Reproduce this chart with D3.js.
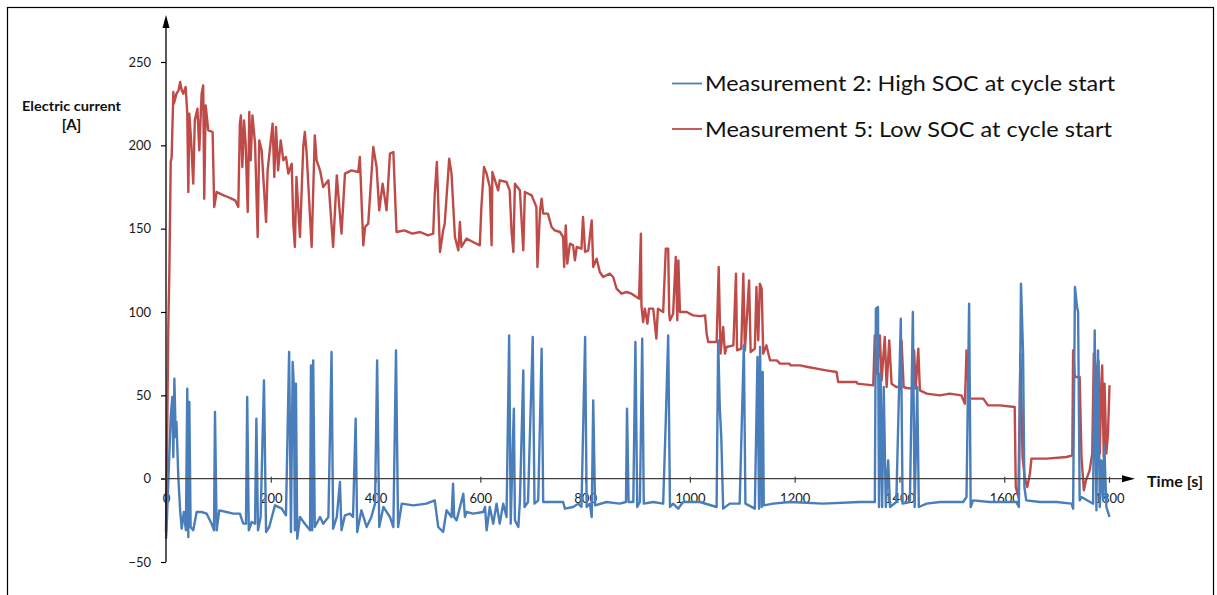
<!DOCTYPE html>
<html>
<head>
<meta charset="utf-8">
<script src="https://cdnjs.cloudflare.com/ajax/libs/d3/7.8.5/d3.min.js"></script>
<style>
body{margin:0;background:#fff;}
svg{display:block;}
</style>
</head>
<body>
<script>
// [time s, current A] samples
var m2Points = [[0,-36],[1,-31],[4.5,-1],[9,37],[12,49],[14,13],[16,60],[18.5,25],[20,34],[23.5,1],[27,-19],[30,-30],[34,-20],[38,-31],
  [40.6,54],[42.6,-35],[44.5,46],[47,-29],[52,-31],[58.5,-20],[68,-20],[77.7,-21],[87,-27],[91.6,-31],[93.5,40],[96.7,-31],
  [101.7,-19],[115.5,-20],[128.5,-21],[141,-21],[147.5,-27],[152.7,-27],[155,49],[158,-31],[163.5,-26],[170,-27],[172.5,36],
  [175.6,-31],[180.7,-23],[187,59],[191,-32],[197,-29],[208,-16],[221,-18],[229,-22],[235,76],[238.5,-32],[241.8,70],[244,56],
  [246,-31],[248,57],[250.5,-36],[255.7,-23],[265,-27],[275,-31],[276.7,68],[279,-31],[281,71],[284,-29],[294,-23],[300,-27],
  [310,-23],[316,76],[319,-30],[326,-23],[332,-2],[335,-31],[341.6,-22],[351,-21],[357,-23],[362,36],[365,-32],[373,-19],
  [383,-29],[392,-23],[399,-15],[403,71],[407,-29],[415,-17],[427.5,-23],[434,-29],[439,77],[443,-29],[450,-15],[472,-16],
  [497,-15],[513,-13],[519.6,-29],[529,-32],[535.5,-19],[545,-23],[548,-3],[550,-23],[554.6,-25],[558,-21],[567.5,-9],
  [570.6,-23],[573.7,-20],[586,-21],[605.5,-20],[609,-17],[612,-31],[618,-17],[624.6,-27],[631,-15],[637,-27],[643.7,-15],
  [650,-23],[655,86],[658,-27],[661.6,16],[664,42],[666,-25],[672.6,-29],[675.6,-13],[682,65],[684.4,-17],[691,-14],[700,85],
  [703.4,-15],[710.5,-13],[717,78],[720,-14],[739,-14],[758,-14],[761.5,-18],[777,-17],[787,-15],[793,-17],[800,85],[803,-17],
  [809,-15],[812.6,-23],[815.5,47],[819,-16],[841,-14],[866,-15],[878,-14],[880,42],[883,-14],[892,-14],[896,82],[899.5,-17],
  [904.6,-14],[909,84],[912,-15],[930,-14],[949,-15],[954,35],[958.6,86],[962,-17],[968,-15],[977.6,-18],[987,-14],[1019,-14],
  [1051,-17],[1054,83],[1057,43],[1060,24],[1063.5,-18],[1076,-15],[1095,-15],[1103,80],[1106,-15],[1124,-18],[1129,73],
  [1132,-18],[1134,79],[1137,-17],[1139,64],[1141,-16],[1159,-15],[1191,-14],[1254,-15],[1324,-14],[1353,-14],[1355,102],
  [1359,103],[1361,-17],[1364,63],[1367,-17],[1370,55],[1374,-17],[1378.5,11],[1382,-17],[1394,-14],[1402.6,96],[1406,-15],
  [1420,-14],[1425.6,100],[1429,-17],[1434,55],[1437,-17],[1452,-15],[1477,-14],[1521.6,-14],[1528,-11],[1533,105],[1536,-17],
  [1540.6,-13],[1572,-14],[1623,-14],[1628,-17],[1632,117],[1636,75],[1638.5,-5],[1642,-13],[1668,-14],[1700,-14],
  [1728.5,-15],[1731.5,-18],[1735,115],[1739,103],[1741,100],[1742,63],[1744,-13],[1747.5,-11],[1769.6,-15],[1772.7,89],
  [1776,-19],[1779,77],[1782.4,-17],[1785.6,11],[1788.7,-13],[1791,20],[1795,-17],[1801,-23]];

var m5Points = [[0,-32],[2,20],[4.4,91],[6.4,124],[9,190],[10.8,193],[14,232],[15,225],[20,231],[24,233],[27,238],[30,233],
  [33,231],[37.5,235],[40.6,219],[42.6,172],[44.5,219],[47.7,204],[52,177],[55,215],[60,222],[63.5,197],[68,231],[71,236],
  [73,168],[75.7,224],[80.7,209],[89,208],[92,163],[96.7,172],[103,171],[110,170],[118,169],[125,168],[132,167],[138,163],
  [141,213],[143,218],[145.7,187],[149,215],[152,201],[156,160],[159,220],[161.6,191],[165,218],[170,201],[175,145],[178,203],
  [182.6,197],[191,154],[194,185],[203.5,213],[206.7,181],[210,211],[214,185],[219,203],[224,191],[229,193],[233.5,183],
  [240,189],[243,153],[246,139],[249,181],[255.7,145],[262,199],[265,208],[268.5,195],[278,139],[284,206],[287.5,191],
  [294,185],[300,175],[310,179],[319,139],[326,182],[335,147],[341.6,183],[354,185],[367,184],[370,193],[376.6,140],[380,151],
  [386,153],[395.6,199],[402,187],[407,161],[413.5,177],[421,161],[427.5,195],[434,196],[440,148],[455,149],[470,147],
  [485,148],[500,146],[510,147],[513,171],[517,190],[523,136],[529,149],[532,153],[540.6,192],[545,183],[551.5,145],[558,137],
  [561,154],[564,139],[573.5,144],[586,142],[599,140],[602,163],[607,187],[612,183],[618,175],[621.5,140],[623,184],[634,173],
  [637,179],[650,178],[656,173],[659.5,149],[663,136],[666,177],[675.5,173],[682,137],[685,172],[698,170],[707,163],[709,127],
  [714,161],[717,168],[720,159],[729,159],[736,151],[742,149],[752,148],[758,145],[760,127],[763,152],[766,129],[771,141],
  [777,140],[780.5,131],[784,139],[793,138],[796,157],[800,136],[806,137],[812.6,155],[815.5,127],[822,132],[828,124],
  [834.5,121],[847,123],[853.6,121],[860,114],[869.5,111],[879,112],[888.7,111],[898,109],[903,108],[906.5,147],[907.5,104],
  [910.7,94],[914,102],[919,93],[922,102],[930,102],[936,84],[939,102],[949,100],[954,138],[958.6,138],[960.5,99],[962,95],
  [968,99],[973,133],[976,95],[978,131],[981,100],[994,100],[1006,98],[1019,97.5],[1029,98],[1032,87],[1035,82],[1051,82],
  [1055,127],[1058.5,75],[1063.5,91],[1067,75],[1070,79],[1083,80],[1088,123],[1090,77],[1098,78],[1102,123],[1105,77],
  [1113,119],[1116,76],[1124,78],[1127,115],[1130.5,83],[1133.6,117],[1137,114],[1140,75],[1146,80],[1153,71],[1166,71],
  [1172,69],[1190,69],[1192,68],[1210,68],[1225,67],[1242,66],[1260,65],[1280,64],[1283,58],[1318,58],[1320,57],[1350,56],
  [1353,86],[1357,63],[1362.6,86],[1366,59],[1372,85],
  [1375.6,55],[1380.5,83],[1385,57],[1394,55],[1401,55],[1404,83],[1408,55],[1413.5,54.4],[1426,54],[1428,77],[1431,54],
  [1436,78],[1439,53],[1452,51],[1477,50],[1496,51],[1518,50],[1525,45],[1528,77],[1533,48],[1560,48],[1569,44],[1591.6,44],
  [1620,43],[1622,-5],[1627,-11],[1631,75],[1635,13],[1639,1],[1644,-5],[1649,3],[1652,12],[1681,12],[1719,13],[1730,14],
  [1731.5,77],[1735,61],[1744,61],[1747.5,13],[1752,-7],[1756,-1],[1763,5],[1768,15],[1771,75],[1775,67],[1777.5,7],[1780,71],
  [1782.5,15],[1785.6,59],[1787,68],[1790,13],[1791.5,57],[1795,15],[1798,27],[1801,56]];

var xTicks = [0, 200, 400, 600, 800, 1000, 1200, 1400, 1600, 1800];
var yTicks = [-50, 0, 50, 100, 150, 200, 250];
var seriesNames = ["Measurement 2: High SOC at cycle start", "Measurement 5: Low SOC at cycle start"];
var seriesColors = ["#4a7ebb", "#be4b48"];

var W = 1217, H = 595;
var FONT = "Lato, 'Open Sans', sans-serif";

var svg = d3.select("body").append("svg")
  .attr("width", W)
  .attr("height", H);

// outer chart frame
svg.append("rect")
  .attr("x", 7.5).attr("y", 7.5)
  .attr("width", 1206).attr("height", 620)
  .style("fill", "none")
  .style("stroke", "#000")
  .style("stroke-width", 1.2);

var x = d3.scaleLinear().domain([0, 1800]).range([166, 1109]);
var y = d3.scaleLinear().domain([-50, 250]).range([562, 62]);

// y axis ticks + labels
var yAxis = svg.append("g")
  .attr("transform", "translate(" + x(0) + ",0)")
  .call(d3.axisLeft(y).tickValues(yTicks).tickSize(5).tickPadding(10).tickFormat(d3.format("d")));
yAxis.select(".domain").remove();
yAxis.selectAll(".tick line").style("stroke", "#000").style("stroke-width", 1.2);
yAxis.selectAll(".tick text")
  .attr("font-family", FONT).attr("font-size", "13px").style("fill", "#1a1a1a");

// x axis ticks + labels
var xAxis = svg.append("g")
  .attr("transform", "translate(0," + y(0) + ")")
  .call(d3.axisBottom(x).tickValues(xTicks).tickSize(4).tickFormat(d3.format("d")));
xAxis.select(".domain").remove();
xAxis.selectAll(".tick line").attr("y1", -2).attr("y2", 4).style("stroke", "#404040").style("stroke-width", 1.2);
xAxis.selectAll(".tick text")
  .attr("dy", null).attr("y", 24)
  .attr("font-family", FONT).attr("font-size", "13px").style("fill", "#1a1a1a");

// series lines
var line = d3.line()
  .x(function(d){ return x(d[0]); })
  .y(function(d){ return y(d[1]); });

svg.append("path").datum(m5Points)
  .attr("d", line)
  .style("fill", "none")
  .style("stroke", seriesColors[1])
  .style("stroke-width", 2.4)
  .style("stroke-linejoin", "round");

svg.append("path").datum(m2Points)
  .attr("d", line)
  .style("fill", "none")
  .style("stroke", seriesColors[0])
  .style("stroke-width", 2.4)
  .style("stroke-linejoin", "round");

// axis lines with arrow heads
var x0 = x(0), y0 = y(0);
svg.append("line")
  .attr("x1", x0).attr("y1", y(-50)).attr("x2", x0).attr("y2", 27)
  .style("stroke", "#000").style("stroke-width", 1.3);
svg.append("path")
  .attr("d", "M" + (x0 - 3.5) + ",28L" + x0 + ",15L" + (x0 + 3.5) + ",28Z")
  .style("fill", "#000");
svg.append("line")
  .attr("x1", x0 - 5).attr("y1", y0).attr("x2", 1123).attr("y2", y0)
  .style("stroke", "#404040").style("stroke-width", 1.3);
svg.append("path")
  .attr("d", "M1122," + (y0 - 3.5) + "L1135," + y0 + "L1122," + (y0 + 3.5) + "Z")
  .style("fill", "#000");

// axis titles
svg.append("text")
  .attr("x", 71.5).attr("y", 111)
  .attr("text-anchor", "middle")
  .attr("font-family", FONT).attr("font-weight", "bold").attr("font-size", "14px")
  .attr("textLength", 99).attr("lengthAdjust", "spacingAndGlyphs")
  .style("fill", "#111")
  .text("Electric current");
svg.append("text")
  .attr("x", 71.5).attr("y", 130)
  .attr("text-anchor", "middle")
  .attr("font-family", FONT).attr("font-weight", "bold").attr("font-size", "15px")
  .style("fill", "#111")
  .text("[A]");
svg.append("text")
  .attr("x", 1147).attr("y", 487)
  .attr("font-family", FONT).attr("font-weight", "bold").attr("font-size", "15px")
  .attr("textLength", 56).attr("lengthAdjust", "spacingAndGlyphs")
  .style("fill", "#111")
  .text("Time [s]");

// legend
var legend = svg.selectAll(".legend").data(seriesNames).enter().append("g")
  .attr("class", "legend")
  .attr("transform", function(d, i){ return "translate(0," + (83.5 + i * 45.5) + ")"; });
legend.append("line")
  .attr("x1", 672).attr("x2", 702).attr("y1", 0).attr("y2", 0)
  .style("stroke", function(d, i){ return seriesColors[i]; })
  .style("stroke-width", 1.8);
legend.append("text")
  .attr("x", 705).attr("y", 7.5)
  .attr("font-family", FONT).attr("font-size", "22px")
  .attr("textLength", function(d, i){ return i === 0 ? 410 : 407; })
  .attr("lengthAdjust", "spacingAndGlyphs")
  .style("fill", "#111")
  .text(function(d){ return d; });
</script>
</body>
</html>
